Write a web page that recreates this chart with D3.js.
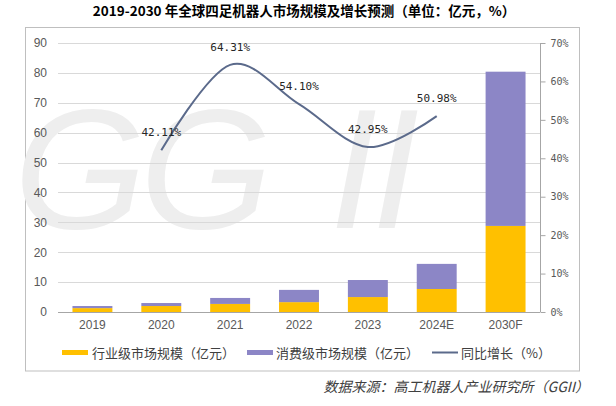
<!DOCTYPE html>
<html><head><meta charset="utf-8">
<script src="https://cdn.jsdelivr.net/npm/d3@7"></script>
<style>body{margin:0;background:#fff}svg{display:block}</style>
</head><body>
<svg id="c" width="616" height="406"></svg>
<script>
const categories = ["2019", "2020", "2021", "2022", "2023", "2024E", "2030F"];
const industrial = [1.3, 2.0, 2.7, 3.3, 5.0, 7.7, 28.8];
const consumer = [0.7, 1.0, 2.0, 4.1, 5.7, 8.4, 51.6];
const growthYears = ["2020", "2021", "2022", "2023", "2024E"];
const growth = [42.11, 64.31, 54.10, 42.95, 50.98];
const leftTicks = [0, 10, 20, 30, 40, 50, 60, 70, 80, 90];
const rightTicks = [0, 0.1, 0.2, 0.3, 0.4, 0.5, 0.6, 0.7];
const seriesNames = ["行业级市场规模（亿元）", "消费级市场规模（亿元）", "同比增长（%）"];
const titleText = "2019-2030 年全球四足机器人市场规模及增长预测（单位：亿元，%）";
const sourceText = "数据来源：高工机器人产业研究所（GGII）";

const C_IND = "#FFC000", C_CON = "#8C86C6", C_LINE = "#5B6A8B";
const CJK = "'Noto Sans CJK SC', sans-serif";
const svg = d3.select("#c");

const x = d3.scaleBand().domain(categories).range([58, 540]).paddingInner(0.42).paddingOuter(0.21);
const yL = d3.scaleLinear().domain([0, 90]).range([312, 43]);
const yR = d3.scaleLinear().domain([0, 0.7]).range([312, 43]);

// chart border
svg.append("rect").attr("x", 25.5).attr("y", 27.5).attr("width", 554).attr("height", 343.5)
  .attr("fill", "#fff").attr("stroke", "#BFBFBF").attr("stroke-width", 1);

// watermark
const wm = svg.append("g").attr("fill", "#EEEEEE").attr("font-family", "'Liberation Sans', Arial, sans-serif")
  .attr("font-style", "italic").attr("font-size", 170);
[["G", 14], ["G", 140], ["I", 330], ["I", 372]].forEach(([ch, px]) => {
  wm.append("text").attr("x", px).attr("y", 228).text(ch);
});

// gridlines
svg.append("g").selectAll("line").data(leftTicks.filter(d => d > 0)).join("line")
  .attr("x1", 58).attr("x2", 540)
  .attr("y1", d => Math.round(yL(d)) + 0.5).attr("y2", d => Math.round(yL(d)) + 0.5)
  .attr("stroke", "#D9D9D9");

// left axis labels
const gl = svg.append("g").attr("transform", "translate(58,0)")
  .call(d3.axisLeft(yL).tickValues(leftTicks).tickSize(0).tickPadding(11));
gl.select(".domain").remove();
gl.selectAll("text").attr("font-family", "'Liberation Sans', Arial, sans-serif").attr("font-size", 12).attr("fill", "#595959");

// bars
const stacked = categories.map((c, i) => ({c, ind: industrial[i], con: consumer[i]}));
const bw = x.bandwidth();
svg.append("g").selectAll("rect").data(stacked).join("rect")
  .attr("x", d => x(d.c)).attr("width", bw)
  .attr("y", d => yL(d.ind)).attr("height", d => yL(0) - yL(d.ind)).attr("fill", C_IND);
svg.append("g").selectAll("rect").data(stacked).join("rect")
  .attr("x", d => x(d.c)).attr("width", bw)
  .attr("y", d => yL(d.ind + d.con)).attr("height", d => yL(d.ind) - yL(d.ind + d.con)).attr("fill", C_CON);

// x axis
const gx = svg.append("g").attr("transform", "translate(0,312.5)")
  .call(d3.axisBottom(x).tickSize(0).tickPadding(8));
gx.select(".domain").attr("stroke", "#A6A6A6").attr("d", "M58,0H540");
gx.selectAll("text").attr("font-family", "'Liberation Sans', Arial, sans-serif").attr("font-size", 12).attr("fill", "#595959");

// right axis
const gr = svg.append("g").attr("transform", "translate(540.5,0)")
  .call(d3.axisRight(yR).tickValues(rightTicks).tickSize(5).tickPadding(5).tickFormat(d3.format(".0%")));
gr.select(".domain").attr("stroke", "#A6A6A6").attr("d", "M0,43V312");
gr.selectAll("line").attr("stroke", "#A6A6A6");
gr.selectAll("text").attr("font-family", "'DejaVu Sans Mono', monospace").attr("font-size", 10).attr("fill", "#595959");

// growth line
const pts = growthYears.map((c, i) => [x(c) + bw / 2, yR(growth[i] / 100)]);
svg.append("path").datum(pts).attr("fill", "none").attr("stroke", C_LINE).attr("stroke-width", 2)
  .attr("d", d3.line().curve(d3.curveCardinal.tension(0)));
svg.append("g").selectAll("text").data(growthYears).join("text")
  .attr("x", (c) => x(c) + bw / 2)
  .attr("y", (c, i) => yR(growth[i] / 100) - 14)
  .attr("text-anchor", "middle")
  .attr("font-family", "'DejaVu Sans Mono', monospace").attr("font-size", 11).attr("fill", "#262626")
  .text((c, i) => growth[i].toFixed(2) + "%");

// title
svg.append("text").attr("x", 304).attr("y", 16).attr("text-anchor", "middle")
  .attr("font-family", CJK).attr("font-weight", "bold").attr("font-size", 13.5).attr("fill", "#000")
  .text(titleText);

// legend
const lg = svg.append("g").attr("font-family", CJK).attr("font-size", 13).attr("fill", "#404040");
lg.append("rect").attr("x", 62).attr("y", 350).attr("width", 26).attr("height", 5).attr("fill", C_IND);
lg.append("text").attr("x", 92).attr("y", 352.5).attr("dominant-baseline", "central").text(seriesNames[0]);
lg.append("rect").attr("x", 247).attr("y", 350).attr("width", 26).attr("height", 5).attr("fill", C_CON);
lg.append("text").attr("x", 276).attr("y", 352.5).attr("dominant-baseline", "central").text(seriesNames[1]);
lg.append("line").attr("x1", 432).attr("x2", 458).attr("y1", 352.5).attr("y2", 352.5).attr("stroke", C_LINE).attr("stroke-width", 2);
lg.append("text").attr("x", 461).attr("y", 352.5).attr("dominant-baseline", "central").text(seriesNames[2]);

// source
svg.append("text").attr("x", 589).attr("y", 392).attr("text-anchor", "end")
  .attr("font-family", CJK).attr("font-style", "italic").attr("font-size", 14).attr("fill", "#404040")
  .text(sourceText);
</script>
</body></html>
